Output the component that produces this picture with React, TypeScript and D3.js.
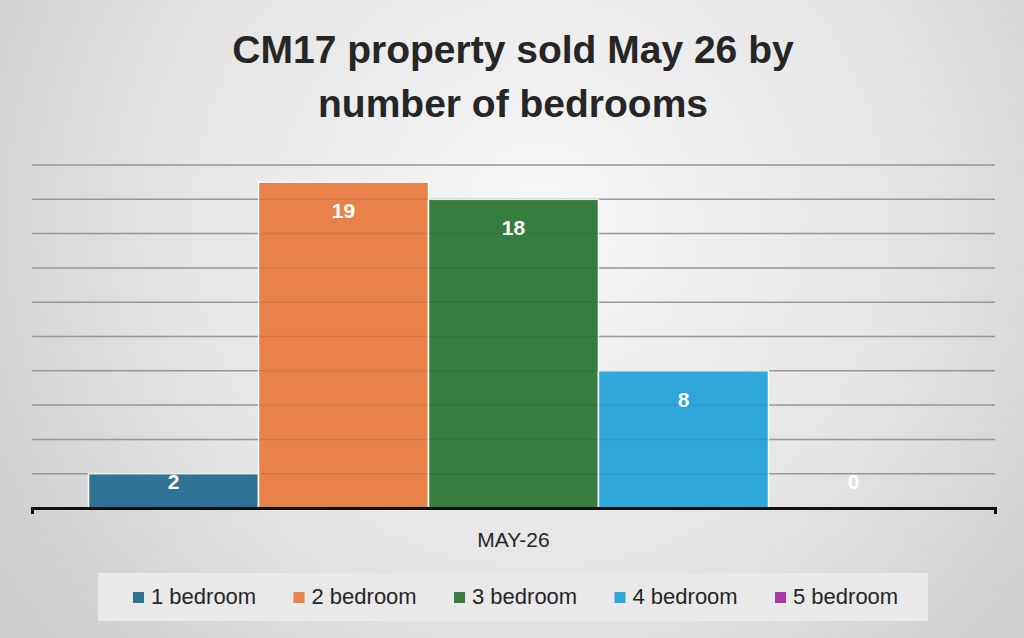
import { useEffect, useRef } from "react";
import * as d3 from "d3";

const periods = ["MAY-26"];
const seriesNames = ["1 bedroom", "2 bedroom", "3 bedroom", "4 bedroom", "5 bedroom"];
const seriesColors = ["#2f7294", "#e8824a", "#377e3e", "#2ea6da", "#a83aa8"];
const soldCounts = [2, 19, 18, 8, 0];
const gridTicks = [2, 4, 6, 8, 10, 12, 14, 16, 18, 20];
const titleLines = ["CM17 property sold May 26 by", "number of bedrooms"];

const App = () => {
  const svgRef = useRef<SVGSVGElement | null>(null);

  useEffect(() => {
    if (!svgRef.current) return;
    const width = 1024;
    const height = 638;
    const margin = { top: 165, right: 29, bottom: 130, left: 32 };
    const innerWidth = width - margin.left - margin.right;
    const innerHeight = height - margin.top - margin.bottom;

    const svg = d3.select(svgRef.current);
    svg.selectAll("*").remove();
    svg.attr("viewBox", `0 0 ${width} ${height}`).attr("width", width).attr("height", height);

    // background
    const defs = svg.append("defs");
    const grad = defs
      .append("radialGradient")
      .attr("id", "bg")
      .attr("gradientUnits", "userSpaceOnUse")
      .attr("cx", 540)
      .attr("cy", 220)
      .attr("r", 640);
    grad.append("stop").attr("offset", "0%").attr("stop-color", "#f7f7f7");
    grad.append("stop").attr("offset", "55%").attr("stop-color", "#e6e6e6");
    grad.append("stop").attr("offset", "100%").attr("stop-color", "#cdcdcd");
    svg.append("rect").attr("width", width).attr("height", height).attr("fill", "url(#bg)");

    // title
    svg
      .append("text")
      .attr("text-anchor", "middle")
      .attr("font-family", "'Liberation Sans', Arial, sans-serif")
      .attr("font-weight", "bold")
      .attr("font-size", 39)
      .attr("fill", "#262626")
      .selectAll("tspan")
      .data(titleLines)
      .join("tspan")
      .attr("x", 513)
      .attr("y", (_, i) => 63 + i * 54)
      .text((d) => d);

    const x0 = d3.scaleBand().domain(periods).range([0, innerWidth]).paddingOuter(0.0665);
    const x1 = d3.scaleBand().domain(seriesNames).range([0, x0.bandwidth()]);
    const y = d3.scaleLinear().domain([0, 20]).range([innerHeight, 0]);

    const g = svg.append("g").attr("transform", `translate(${margin.left}, ${margin.top})`);

    g.selectAll("line.grid")
      .data(gridTicks)
      .join("line")
      .attr("class", "grid")
      .attr("x1", 0)
      .attr("x2", innerWidth)
      .attr("y1", (d) => y(d))
      .attr("y2", (d) => y(d))
      .attr("stroke", "#a3a3a3")
      .attr("stroke-width", 1.5);

    const group = g.append("g").attr("transform", `translate(${x0(periods[0])}, 0)`);
    group
      .selectAll("rect")
      .data(soldCounts)
      .join("rect")
      .attr("x", (_, i) => x1(seriesNames[i]) as number)
      .attr("y", (d) => y(d))
      .attr("width", x1.bandwidth())
      .attr("height", (d) => innerHeight - y(d))
      .attr("fill", (_, i) => seriesColors[i])
      .attr("stroke", (d) => (d > 0 ? "#ffffff" : "none"))
      .attr("stroke-width", 1.5);

    // grid shows faintly through the bars
    g.selectAll("line.grid-over")
      .data(gridTicks)
      .join("line")
      .attr("class", "grid-over")
      .attr("x1", 0)
      .attr("x2", innerWidth)
      .attr("y1", (d) => y(d))
      .attr("y2", (d) => y(d))
      .attr("stroke", "#000000")
      .attr("stroke-opacity", 0.08)
      .attr("stroke-width", 1.5);

    group
      .selectAll("text")
      .data(soldCounts)
      .join("text")
      .attr("x", (_, i) => (x1(seriesNames[i]) as number) + x1.bandwidth() / 2)
      .attr("y", (d) => Math.min(y(d) + 36, innerHeight - 19))
      .attr("text-anchor", "middle")
      .attr("font-family", "'Liberation Sans', Arial, sans-serif")
      .attr("font-weight", "bold")
      .attr("font-size", 21)
      .attr("fill", "#ffffff")
      .text((d) => d);

    g.append("g")
      .attr("transform", `translate(0, ${innerHeight})`)
      .call(d3.axisBottom(x0).tickSizeInner(0).tickSizeOuter(6).tickPadding(24))
      .call((axis) => axis.select(".domain").attr("stroke", "#111111").attr("stroke-width", 3))
      .call((axis) =>
        axis
          .selectAll("text")
          .attr("fill", "#262626")
          .attr("font-size", 21)
          .attr("font-family", "'Liberation Sans', Arial, sans-serif")
      );

    // legend
    svg
      .append("rect")
      .attr("x", 98)
      .attr("y", 573)
      .attr("width", 830)
      .attr("height", 48)
      .attr("fill", "#e9e9e9");

    const lx = d3.scaleBand().domain(seriesNames).range([133, 133 + 160.5 * seriesNames.length]);
    const item = svg
      .append("g")
      .selectAll("g")
      .data(seriesNames)
      .join("g")
      .attr("transform", (d) => `translate(${lx(d)}, 0)`);
    item
      .append("rect")
      .attr("y", 592)
      .attr("width", 11)
      .attr("height", 11)
      .attr("fill", (_, i) => seriesColors[i]);
    item
      .append("text")
      .attr("x", 18)
      .attr("y", 604)
      .attr("font-family", "'Liberation Sans', Arial, sans-serif")
      .attr("font-size", 22)
      .attr("fill", "#262626")
      .text((d) => d);
  }, []);

  return <svg ref={svgRef} style={{ position: "absolute", left: 0, top: 0 }} />;
};

export default App;
